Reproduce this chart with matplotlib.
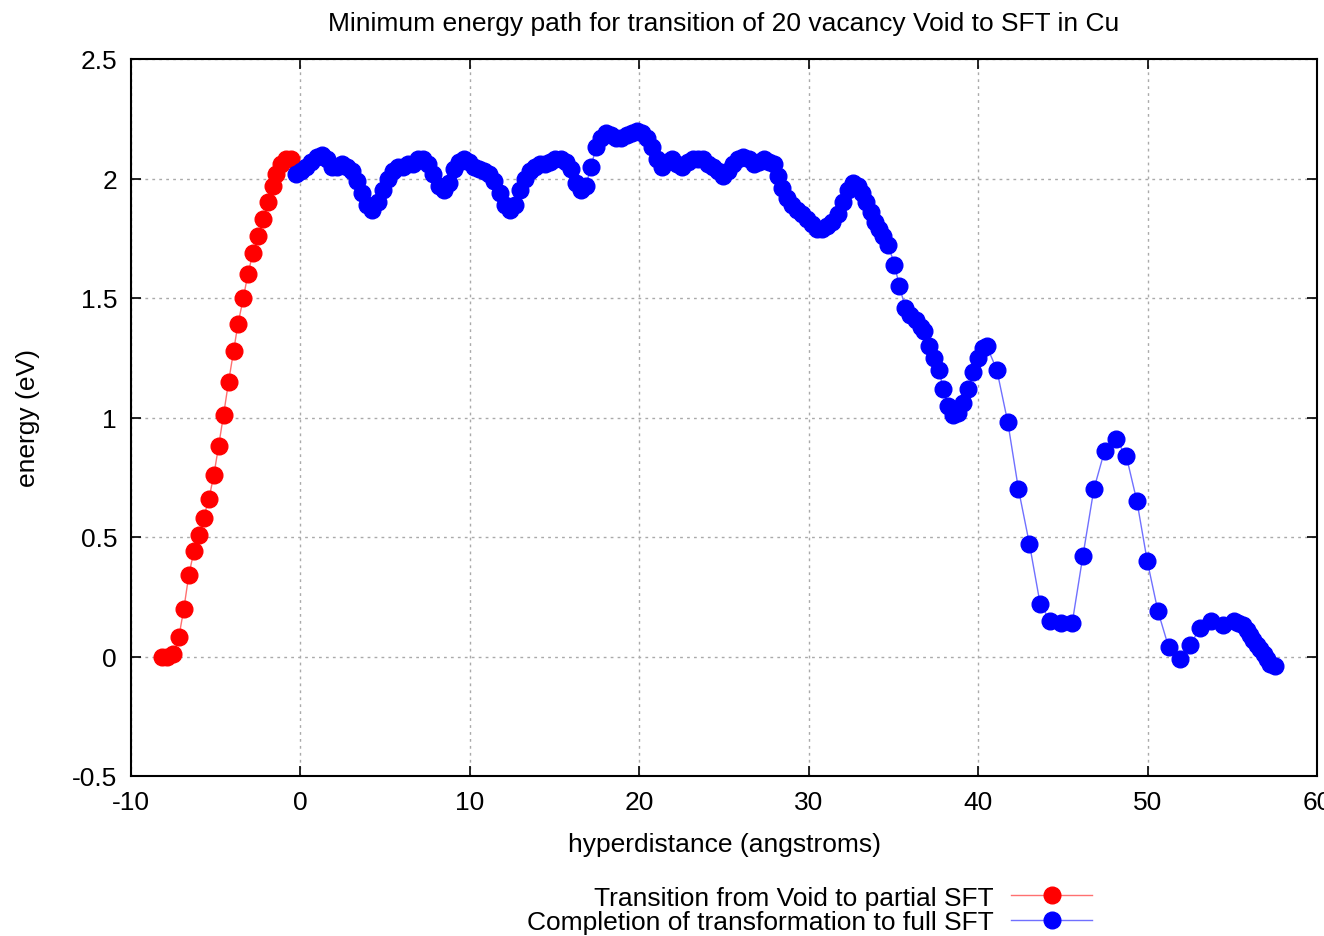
import matplotlib
matplotlib.use("Agg")
import matplotlib.pyplot as plt

plt.rcParams["font.family"] = ["Liberation Sans", "DejaVu Sans"]
plt.rcParams["axes.unicode_minus"] = False

# Transition from Void to partial SFT
red_x = [-8.19, -7.85, -7.50, -7.18, -6.88, -6.59, -6.29, -6.00, -5.72,
         -5.40, -5.11, -4.83, -4.54, -4.24, -3.94, -3.69, -3.37, -3.10,
         -2.80, -2.50, -2.21, -1.91, -1.62, -1.42, -1.12, -0.83, -0.55]
red_y = [0.00, 0.00, 0.01, 0.08, 0.20, 0.34, 0.44, 0.51, 0.58,
         0.66, 0.76, 0.88, 1.01, 1.15, 1.28, 1.39, 1.50, 1.60,
         1.69, 1.76, 1.83, 1.90, 1.97, 2.02, 2.06, 2.08, 2.08]

# Completion of transformation to full SFT
blue_x = [-0.25, 0.05, 0.35, 0.65, 0.95, 1.25, 1.55, 1.85, 2.15, 2.45,
          2.75, 3.05, 3.35, 3.65, 3.95, 4.25, 4.55, 4.85, 5.15, 5.45,
          5.75, 6.05, 6.35, 6.65, 6.95, 7.25, 7.55, 7.85, 8.15, 8.45,
          8.75, 9.05, 9.35, 9.65, 9.95, 10.25, 10.55, 10.85, 11.15, 11.45,
          11.75, 12.05, 12.35, 12.65, 12.95, 13.25, 13.55, 13.85, 14.15, 14.45,
          14.75, 15.05, 15.35, 15.65, 15.95, 16.25, 16.55, 16.85, 17.15, 17.45,
          17.75, 18.05, 18.35, 18.65, 18.95, 19.25, 19.55, 19.85, 20.15, 20.45,
          20.75, 21.05, 21.35, 21.65, 21.95, 22.25, 22.55, 22.85, 23.15, 23.45,
          23.75, 24.05, 24.35, 24.65, 24.95, 25.25, 25.55, 25.85, 26.15, 26.45,
          26.75, 27.05, 27.35, 27.65, 27.95, 28.20, 28.45, 28.70, 29.00, 29.30,
          29.60, 29.90, 30.20, 30.50, 30.80, 31.10, 31.40, 31.70, 32.00, 32.30,
          32.60, 32.90, 33.15, 33.40, 33.65, 33.90, 34.15, 34.40, 34.70, 35.06,
          35.35, 35.70, 36.00, 36.34, 36.60, 36.83, 37.12, 37.42, 37.71, 37.91,
          38.20, 38.50, 38.80, 39.10, 39.40, 39.70, 40.00, 40.30, 40.50, 41.10,
          41.75, 42.38, 43.03, 43.66, 44.25, 44.90, 45.55, 46.18, 46.83, 47.46,
          48.11, 48.74, 49.37, 49.98, 50.61, 51.24, 51.89, 52.52, 53.11, 53.76,
          54.45, 55.08, 55.35, 55.63, 55.85, 56.05, 56.25, 56.45, 56.65, 56.85,
          57.05, 57.25, 57.50]
blue_y = [2.02, 2.03, 2.05, 2.07, 2.09, 2.10, 2.08, 2.05, 2.05, 2.06,
          2.05, 2.03, 1.99, 1.94, 1.89, 1.87, 1.90, 1.95, 2.00, 2.03,
          2.05, 2.05, 2.06, 2.06, 2.08, 2.08, 2.06, 2.02, 1.97, 1.95,
          1.98, 2.04, 2.07, 2.08, 2.07, 2.05, 2.04, 2.03, 2.02, 1.99,
          1.94, 1.89, 1.87, 1.89, 1.95, 2.00, 2.03, 2.05, 2.06, 2.06,
          2.07, 2.08, 2.08, 2.07, 2.04, 1.98, 1.95, 1.97, 2.05, 2.13,
          2.17, 2.19, 2.18, 2.17, 2.17, 2.18, 2.19, 2.20, 2.19, 2.17,
          2.13, 2.08, 2.05, 2.07, 2.08, 2.06, 2.05, 2.07, 2.08, 2.08,
          2.08, 2.06, 2.05, 2.03, 2.01, 2.03, 2.06, 2.08, 2.09, 2.08,
          2.06, 2.07, 2.08, 2.07, 2.06, 2.01, 1.96, 1.92, 1.89, 1.87,
          1.85, 1.83, 1.81, 1.79, 1.79, 1.80, 1.82, 1.85, 1.90, 1.95,
          1.98, 1.97, 1.94, 1.90, 1.86, 1.82, 1.79, 1.76, 1.72, 1.64,
          1.55, 1.46, 1.43, 1.41, 1.38, 1.36, 1.30, 1.25, 1.20, 1.12,
          1.05, 1.01, 1.02, 1.06, 1.12, 1.19, 1.25, 1.29, 1.30, 1.20,
          0.98, 0.70, 0.47, 0.22, 0.15, 0.14, 0.14, 0.42, 0.70, 0.86,
          0.91, 0.84, 0.65, 0.40, 0.19, 0.04, -0.01, 0.05, 0.12, 0.15,
          0.13, 0.15, 0.14, 0.13, 0.11, 0.09, 0.07, 0.05, 0.03, 0.01,
          -0.01, -0.03, -0.04]

xticks = [-10, 0, 10, 20, 30, 40, 50, 60]
yticks = [-0.5, 0, 0.5, 1, 1.5, 2, 2.5]
ytick_labels = ["-0.5", "0", "0.5", "1", "1.5", "2", "2.5"]

fs = 19
fig = plt.figure(figsize=(13.24, 9.37), dpi=100)
ax = fig.add_axes([131 / 1324, 1 - 777 / 937, 1186 / 1324, 717 / 937])

ax.plot(red_x, red_y, color="#ff7070", lw=1.0, marker="o", ms=12,
        mfc="red", mec="red", label="Transition from Void to partial SFT")
ax.plot(blue_x, blue_y, color="#7070ff", lw=1.0, marker="o", ms=12,
        mfc="blue", mec="blue", label="Completion of transformation to full SFT")

ax.set_xlim(-10, 60)
ax.set_ylim(-0.5, 2.5)
ax.set_xticks(xticks)
ax.set_yticks(yticks)
ax.set_yticklabels(ytick_labels)
ax.tick_params(direction="in", length=7, width=1.2, top=True, right=True,
               labelsize=fs)
ax.tick_params(axis="x", pad=10)
ax.tick_params(axis="y", pad=10)
ax.grid(True, color="#aaaaaa", lw=1.0, linestyle=(0, (2, 3)))
for s in ax.spines.values():
    s.set_linewidth(1.5)

ax.set_title("Minimum energy path for transition of 20 vacancy Void to SFT in Cu",
             fontsize=fs, pad=21)
ax.set_xlabel("hyperdistance (angstroms)", fontsize=fs, labelpad=13)
ax.set_ylabel("energy (eV)", fontsize=fs, labelpad=23)

fig.legend(loc="upper right", bbox_to_anchor=(1103 / 1324, 1 - 876 / 937),
           frameon=False, markerfirst=False, fontsize=fs, handlelength=3.1,
           labelspacing=0.02, handletextpad=0.65, borderaxespad=0)

fig.savefig("out.png", dpi=100)
